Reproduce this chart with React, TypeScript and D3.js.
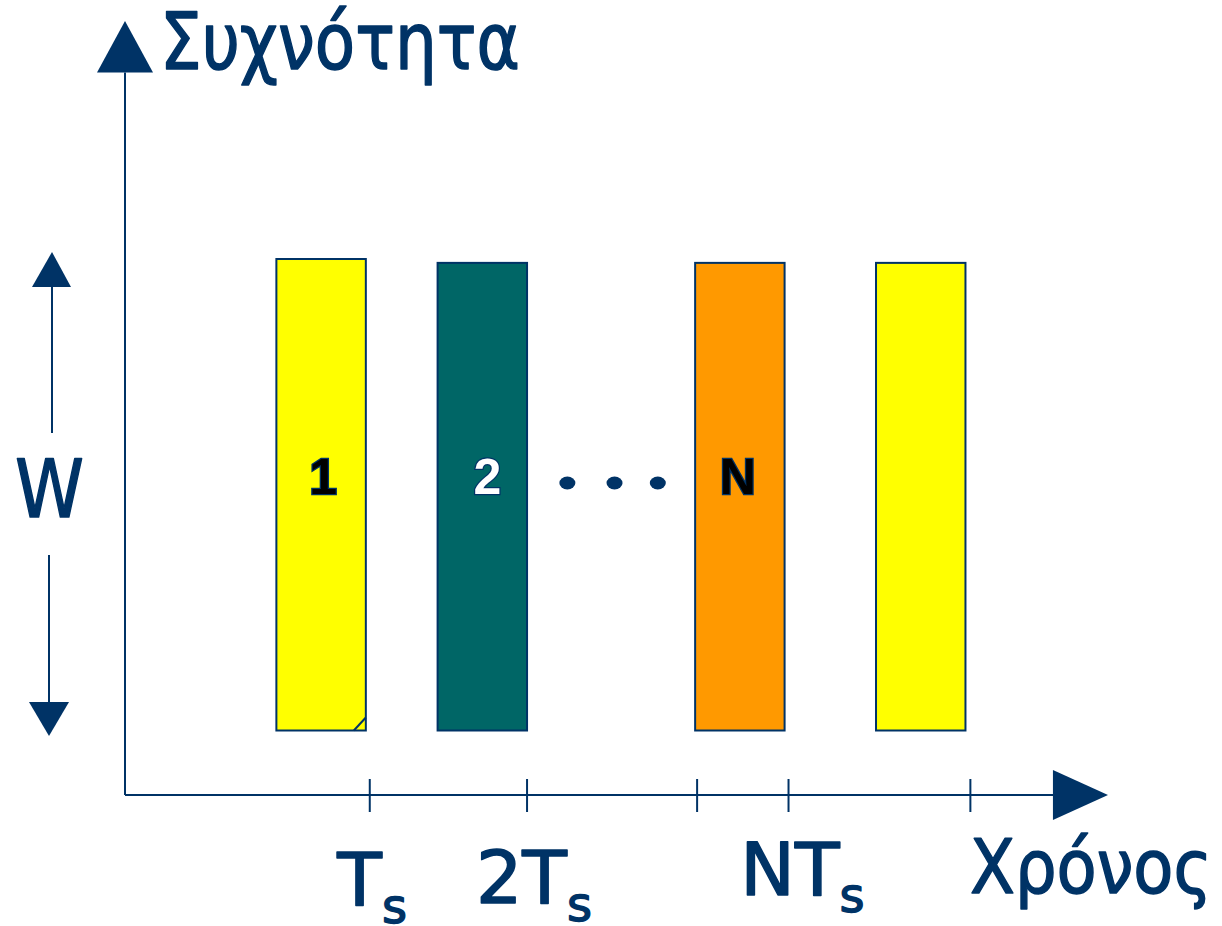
import React from "react";
import * as d3 from "d3";

// ---- data (schematic units) ----
const barStarts = [1.54, 3.18, 5.8, 7.64];
const barEnds = [2.45, 4.09, 6.71, 8.55];
const barTops = [8.31, 8.25, 8.25, 8.25];
const barBottom = 1.0;
const barColors = ["#FFFF00", "#006666", "#FF9900", "#FFFF00"];
const barLabels = ["1", "2", "N", ""];
const barLabelFills = ["#000000", "#FFFFFF", "#000000", ""];
const tickValues = [2.49, 4.09, 5.82, 6.75, 8.6];
const tickLabelsMain = ["T", "2T", "NT"];
const tickLabelPos = [2.16, 3.57, 6.26];
const tickLabelBaselines = [905, 903, 895];
const dotValues = [4.5, 4.98, 5.42];
const yLabel = "Συχνότητα";
const xLabel = "Χρόνος";
const wLabel = "W";

const NAVY = "#003366";
const FONT = "'Comic Sans MS', 'DejaVu Sans', sans-serif";

export default function App() {
  const W = 1222, H = 926;
  const x = d3.scaleLinear().domain([0, 10]).range([125, 1108]);
  const y = d3.scaleLinear().domain([0, 12]).range([795, 21]);
  const axisY = y(0);
  const axisX = x(0);
  const arrowBase = y(11.2);

  return (
    <svg width={W} height={H} style={{ position: "absolute", left: 0, top: 0, background: "#fff" }}>
      {/* y axis */}
      <line x1={axisX} y1={arrowBase} x2={axisX} y2={axisY} stroke={NAVY} strokeWidth={2} />
      <path d={`M${axisX},${y(12)} L${axisX + 28},${arrowBase} L${axisX - 28},${arrowBase} Z`} fill={NAVY} />
      {/* x axis */}
      <line x1={axisX} y1={axisY} x2={x(9.45)} y2={axisY} stroke={NAVY} strokeWidth={2} />
      <path d={`M${x(10)},${axisY} L${x(9.44)},${axisY - 25} L${x(9.44)},${axisY + 25} Z`} fill={NAVY} />
      {tickValues.map((t, i) => (
        <line key={i} x1={x(t)} x2={x(t)} y1={axisY - 16} y2={axisY + 17} stroke={NAVY} strokeWidth={2} />
      ))}

      {/* bars */}
      {barStarts.map((s, i) => (
        <rect key={i} x={x(s)} y={y(barTops[i])} width={x(barEnds[i]) - x(s)} height={y(barBottom) - y(barTops[i])}
          fill={barColors[i]} stroke={NAVY} strokeWidth={2} />
      ))}
      <line x1={x(barEnds[0]) - 12} y1={y(barBottom)} x2={x(barEnds[0])} y2={y(barBottom) - 13} stroke={NAVY} strokeWidth={2} />
      {barLabels.map((l, i) => l ? (
        <text key={i} x={(x(barStarts[i]) + x(barEnds[i])) / 2 + (i === 1 ? 5 : i === 2 ? -2 : 2)} y={494} textAnchor="middle"
          fontFamily="Arial, 'Liberation Sans', sans-serif" fontWeight="bold" fontSize={50}
          fill={barLabelFills[i]} stroke={NAVY} strokeWidth={2.5} paintOrder="stroke">{l}</text>
      ) : null)}
      {dotValues.map((d, i) => (
        <ellipse key={i} cx={x(d)} cy={483} rx={8} ry={6.5} fill={NAVY} />
      ))}

      {/* W dimension arrows */}
      <line x1={52} y1={285} x2={52} y2={433} stroke={NAVY} strokeWidth={2} />
      <path d="M52,252 L71,287 L32,287 Z" fill={NAVY} />
      <line x1={49} y1={555} x2={49} y2={702} stroke={NAVY} strokeWidth={2} />
      <path d="M49,736 L69,702 L29,702 Z" fill={NAVY} />
      <text x={15} y={517} fontFamily={FONT} fontSize={80} fill={NAVY} stroke={NAVY} strokeWidth={1.5}
        strokeLinejoin="round" textLength={69} lengthAdjust="spacingAndGlyphs">{wLabel}</text>

      {/* axis titles */}
      <text x={160} y={69} fontFamily={FONT} fontSize={78} fill={NAVY} stroke={NAVY} strokeWidth={1.5}
        strokeLinejoin="round" textLength={360} lengthAdjust="spacingAndGlyphs">{yLabel}</text>
      <text x={970} y={893} fontFamily={FONT} fontSize={75} fill={NAVY} stroke={NAVY} strokeWidth={1.5}
        strokeLinejoin="round" textLength={242} lengthAdjust="spacingAndGlyphs">{xLabel}</text>

      {/* tick labels */}
      {tickLabelsMain.map((l, i) => (
        <text key={i} x={x(tickLabelPos[i])} y={tickLabelBaselines[i]} fontFamily={FONT} fontSize={73}
          fill={NAVY} stroke={NAVY} strokeWidth={1.5} strokeLinejoin="round">
          {l}<tspan fontSize={48} dy={i === 2 ? 17 : 18}>s</tspan>
        </text>
      ))}
    </svg>
  );
}
